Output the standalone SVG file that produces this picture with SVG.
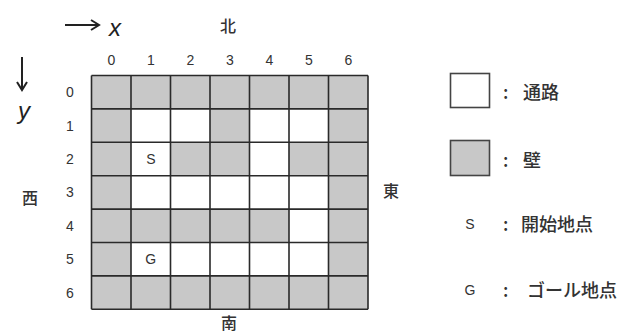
<svg xmlns="http://www.w3.org/2000/svg" width="630" height="333" viewBox="0 0 630 333">
<style>
.w{fill:#ffffff}
.g{fill:#c8c8c8}
.ln{stroke:#2a2a2a;stroke-width:1.6;fill:none}
.num{font-family:"Liberation Sans",sans-serif;font-size:14px;fill:#333;text-anchor:middle;dominant-baseline:central}
.cj{font-family:"Noto Sans CJK JP",sans-serif;font-size:16px;font-weight:500;fill:#333;text-anchor:middle;dominant-baseline:central}
.lg{font-family:"Noto Sans CJK JP",sans-serif;font-size:18px;font-weight:500;fill:#333;dominant-baseline:central}
.ax{font-family:"Liberation Sans",sans-serif;font-style:italic;font-size:24px;fill:#222;text-anchor:middle;dominant-baseline:central}
.arr{stroke:#222;stroke-width:2;fill:none}
</style>
<rect width="630" height="333" fill="#ffffff"/>
<g id="axes">
<path class="arr" d="M65 25 H99 M91 20 L99 25 L91 30"/>
<text class="ax" x="115" y="27">x</text>
<path class="arr" d="M22 57 V90 M17 82 L22 90 L27 82"/>
<text class="ax" x="24" y="110">y</text>
</g>
<g id="directions">
<text class="cj" x="228" y="25">北</text>
<text class="cj" x="30" y="197">西</text>
<text class="cj" x="391" y="190">東</text>
<text class="cj" x="229" y="322">南</text>
</g>
<g id="col-labels">
<text class="num" x="111.3" y="60">0</text>
<text class="num" x="150.8" y="60">1</text>
<text class="num" x="190.3" y="60">2</text>
<text class="num" x="229.8" y="60">3</text>
<text class="num" x="269.3" y="60">4</text>
<text class="num" x="308.8" y="60">5</text>
<text class="num" x="348.3" y="60">6</text>
</g>
<g id="row-labels">
<text class="num" x="70" y="92.2">0</text>
<text class="num" x="70" y="125.6">1</text>
<text class="num" x="70" y="159">2</text>
<text class="num" x="70" y="192.4">3</text>
<text class="num" x="70" y="225.8">4</text>
<text class="num" x="70" y="259.2">5</text>
<text class="num" x="70" y="292.6">6</text>
</g>
<g id="grid">
<rect class="g" x="91.5" y="75.5" width="276.5" height="233.8"/>
<rect class="w" x="131" y="108.9" width="79" height="33.4"/>
<rect class="w" x="249.5" y="108.9" width="79" height="33.4"/>
<rect class="w" x="131" y="142.3" width="39.5" height="33.4"/>
<rect class="w" x="249.5" y="142.3" width="39.5" height="33.4"/>
<rect class="w" x="131" y="175.7" width="197.5" height="33.4"/>
<rect class="w" x="289" y="209.1" width="39.5" height="33.4"/>
<rect class="w" x="131" y="242.5" width="197.5" height="33.4"/>
<path class="ln" d="M91.5 75.5 V309.3 M131 75.5 V309.3 M170.5 75.5 V309.3 M210 75.5 V309.3 M249.5 75.5 V309.3 M289 75.5 V309.3 M328.5 75.5 V309.3 M368 75.5 V309.3"/>
<path class="ln" d="M91.5 75.5 H368 M91.5 108.9 H368 M91.5 142.3 H368 M91.5 175.7 H368 M91.5 209.1 H368 M91.5 242.5 H368 M91.5 275.9 H368 M91.5 309.3 H368"/>
<text class="num" x="150.8" y="159">S</text>
<text class="num" x="150.8" y="259.2">G</text>
</g>
<g id="legend-road">
<rect class="w" x="450.5" y="73.5" width="39" height="34" stroke="#444" stroke-width="1.6"/>
<text class="lg" x="503" y="91">:</text>
<text class="lg" x="523" y="91">通路</text>
</g>
<g id="legend-wall">
<rect class="g" x="450.5" y="140.5" width="39" height="35" stroke="#444" stroke-width="1.6"/>
<text class="lg" x="503" y="159">:</text>
<text class="lg" x="523" y="159">壁</text>
</g>
<g id="legend-start">
<text class="num" x="470" y="224">S</text>
<text class="lg" x="503" y="223">:</text>
<text class="lg" x="521" y="223">開始地点</text>
</g>
<g id="legend-goal">
<text class="num" x="470" y="290">G</text>
<text class="lg" x="503" y="289">:</text>
<text class="lg" x="527" y="289">ゴール地点</text>
</g>
</svg>
